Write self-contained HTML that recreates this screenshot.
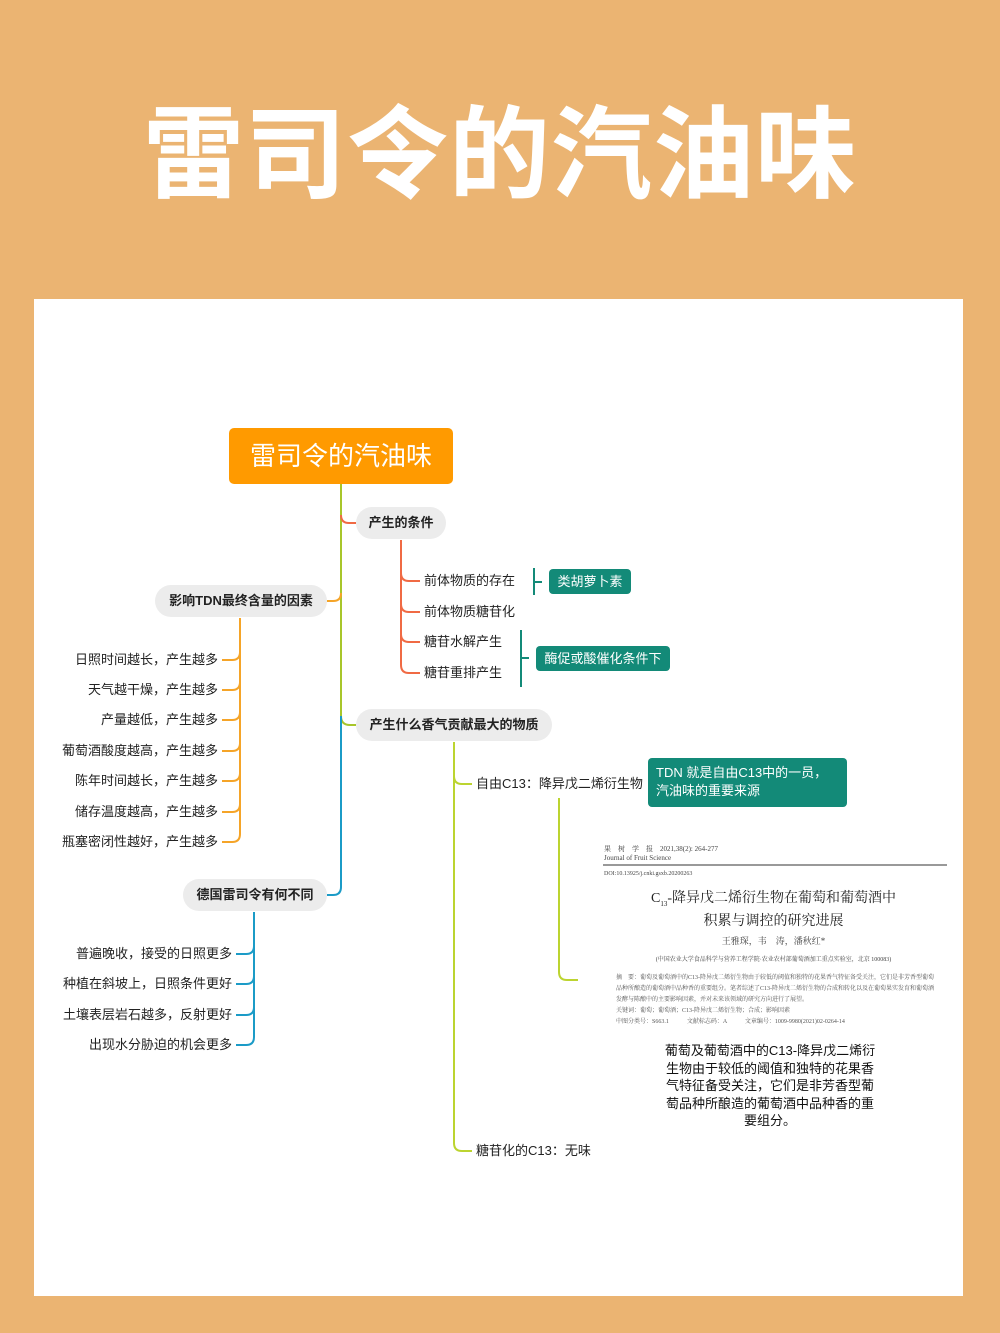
<!DOCTYPE html>
<html><head><meta charset="utf-8"><style>
*{margin:0;padding:0;box-sizing:border-box}
body{width:1000px;height:1333px;background:#EBB472;position:relative;overflow:hidden;font-family:"Liberation Sans","Noto Sans CJK SC",sans-serif;color:#222}
.a{position:absolute;white-space:nowrap}
.pill{position:absolute;background:#ececec;border-radius:16px;font-weight:bold;font-size:13px;text-align:center;line-height:32px}
.t{position:absolute;font-size:13px;line-height:18px;white-space:nowrap}
.r{text-align:right}
.badge{position:absolute;background:#138a78;color:#fff;border-radius:4px;font-size:13px}
</style></head><body>
<div class="a" style="left:0;width:1000px;top:96px;text-align:center;font-size:101px;font-weight:bold;color:#fff;line-height:120px;letter-spacing:1px">雷司令的汽油味</div>
<div class="a" style="left:34px;top:299px;width:929px;height:997px;background:#fff"></div>
<svg class="a" style="left:0;top:0" width="1000" height="1333" fill="none" stroke-width="2">
<path d="M341 484 V716 Q341 725 350 725 H356" stroke="#a8c62a"/>
<path d="M341 716 V887 Q341 895 333 895 H327" stroke="#1b9bc7"/>
<path d="M341 515 Q341 523 349 523 H356" stroke="#f06a44"/>
<path d="M341 593 Q341 601 333 601 H327" stroke="#f5a428"/>
<path d="M401 540 V665 Q401 673 409 673 H420 M401 573 Q401 581 409 581 H420 M401 604 Q401 612 409 612 H420 M401 634 Q401 642 409 642 H420" stroke="#f06a44"/>
<path d="M240 618 V834 Q240 842 232 842 H222 M240 652 Q240 660 232 660 H222 M240 682 Q240 690 232 690 H222 M240 712 Q240 720 232 720 H222 M240 743 Q240 751 232 751 H222 M240 773 Q240 781 232 781 H222 M240 804 Q240 812 232 812 H222" stroke="#f5a428"/>
<path d="M254 912 V1037 Q254 1045 246 1045 H236 M254 946 Q254 954 246 954 H236 M254 976 Q254 984 246 984 H236 M254 1007 Q254 1015 246 1015 H236" stroke="#1b9bc7"/>
<path d="M454 742 V1143 Q454 1151 462 1151 H472 M454 776 Q454 784 462 784 H472" stroke="#bcd430"/>
<path d="M559 798 V972 Q559 980 567 980 H578" stroke="#bcd430"/>
<path d="M534 568 V595 M534 582 H542 M521 630 V687 M521 658 H529" stroke="#138a78"/>
</svg>
<div class="a" style="left:229px;top:428px;width:224px;height:56px;background:#ff9a00;border-radius:5px;color:#fff;font-size:26px;line-height:56px;text-align:center">雷司令的汽油味</div>
<div class="pill" style="left:356px;top:507px;width:90px">产生的条件</div>
<div class="pill" style="left:155px;top:585px;width:172px">影响TDN最终含量的因素</div>
<div class="pill" style="left:356px;top:709px;width:196px">产生什么香气贡献最大的物质</div>
<div class="pill" style="left:183px;top:879px;width:144px">德国雷司令有何不同</div>
<div class="t" style="left:424px;top:572px">前体物质的存在</div>
<div class="t" style="left:424px;top:603px">前体物质糖苷化</div>
<div class="t" style="left:424px;top:633px">糖苷水解产生</div>
<div class="t" style="left:424px;top:664px">糖苷重排产生</div>
<div class="badge" style="left:549px;top:569px;width:82px;height:25px;line-height:25px;text-align:center">类胡萝卜素</div>
<div class="badge" style="left:536px;top:646px;width:134px;height:25px;line-height:25px;text-align:center">酶促或酸催化条件下</div>
<div class="t r" style="left:40px;width:178px;top:651px">日照时间越长，产生越多</div>
<div class="t r" style="left:40px;width:178px;top:681px">天气越干燥，产生越多</div>
<div class="t r" style="left:40px;width:178px;top:711px">产量越低，产生越多</div>
<div class="t r" style="left:40px;width:178px;top:742px">葡萄酒酸度越高，产生越多</div>
<div class="t r" style="left:40px;width:178px;top:772px">陈年时间越长，产生越多</div>
<div class="t r" style="left:40px;width:178px;top:803px">储存温度越高，产生越多</div>
<div class="t r" style="left:40px;width:178px;top:833px">瓶塞密闭性越好，产生越多</div>
<div class="t r" style="left:40px;width:192px;top:945px">普遍晚收，接受的日照更多</div>
<div class="t r" style="left:40px;width:192px;top:975px">种植在斜坡上，日照条件更好</div>
<div class="t r" style="left:40px;width:192px;top:1006px">土壤表层岩石越多，反射更好</div>
<div class="t r" style="left:40px;width:192px;top:1036px">出现水分胁迫的机会更多</div>
<div class="t" style="left:476px;top:775px">自由C13：降异戊二烯衍生物</div>
<div class="t" style="left:476px;top:1142px">糖苷化的C13：无味</div>
<div class="badge" style="left:648px;top:758px;width:199px;height:49px;padding:6px 8px;font-size:13px;line-height:18px;white-space:normal">TDN 就是自由C13中的一员，汽油味的重要来源</div>
<div class="a" style="left:600px;top:842px;width:347px;height:190px;font-family:'Liberation Serif','Noto Serif CJK SC',serif;color:#444">
<div class="a" style="left:4px;top:2px;font-size:7px">果　树　学　报　2021,38(2): 264-277</div>
<div class="a" style="left:4px;top:12px;font-size:7px">Journal of Fruit Science</div>
<div class="a" style="left:3px;top:22px;width:344px;height:2px;background:#999"></div>
<div class="a" style="left:4px;top:29px;font-size:6px">DOI:10.13925/j.cnki.gsxb.20200263</div>
<div class="a" style="left:0;width:347px;top:45px;text-align:center;font-size:14px;color:#222">C<sub style="font-size:7px">13</sub>-降异戊二烯衍生物在葡萄和葡萄酒中</div>
<div class="a" style="left:0;width:347px;top:68px;text-align:center;font-size:14px;color:#222">积累与调控的研究进展</div>
<div class="a" style="left:0;width:347px;top:92px;text-align:center;font-size:9px">王雅琛，韦　涛，潘秋红*</div>
<div class="a" style="left:0;width:347px;top:112px;text-align:center;font-size:6px">(中国农业大学食品科学与营养工程学院·农业农村部葡萄酒加工重点实验室，北京 100083)</div>
<div class="a" style="left:16px;top:131px;width:320px;font-size:6px;line-height:11px;white-space:normal;color:#555">摘　要：葡萄及葡萄酒中的C13-降异戊二烯衍生物由于较低的阈值和独特的花果香气特征备受关注，它们是非芳香型葡萄品种所酿造的葡萄酒中品种香的重要组分。笔者综述了C13-降异戊二烯衍生物的合成和转化以及在葡萄果实发育和葡萄酒发酵与陈酿中的主要影响因素，并对未来该领域的研究方向进行了展望。<br>关键词：葡萄；葡萄酒；C13-降异戊二烯衍生物；合成；影响因素<br>中图分类号：S663.1　　　文献标志码：A　　　文章编号：1009-9980(2021)02-0264-14</div>
</div>
<div class="a" style="left:662px;top:1042px;width:216px;font-size:13px;line-height:17.5px;text-align:center;white-space:normal;color:#111">葡萄及葡萄酒中的C13-降异戊二烯衍生物由于较低的阈值和独特的花果香气特征备受关注，它们是非芳香型葡萄品种所酿造的葡萄酒中品种香的重要组分。</div>
</body></html>
